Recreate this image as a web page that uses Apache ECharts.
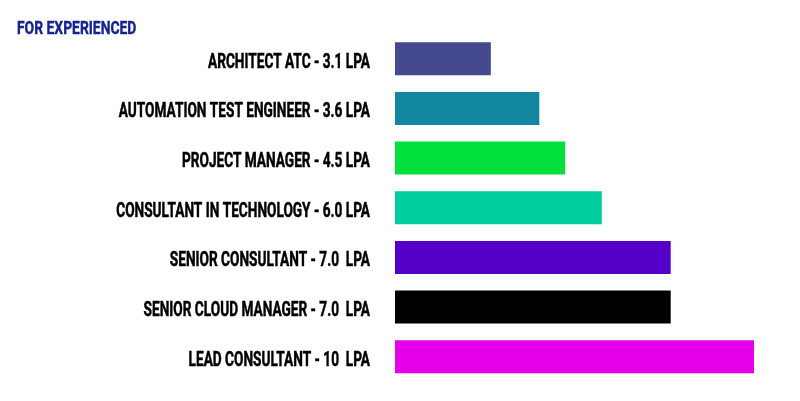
<!DOCTYPE html>
<html>
<head>
<meta charset="utf-8">
<script src="https://cdn.jsdelivr.net/npm/echarts@6/dist/echarts.min.js"></script>
<style>html,body{margin:0;padding:0;background:#fff}#c{width:800px;height:401px}</style>
</head>
<body>
<div id="c"></div>
<script>
const categories = [
  'ARCHITECT ATC - 3.1 LPA',
  'AUTOMATION TEST ENGINEER - 3.6 LPA',
  'PROJECT MANAGER - 4.5 LPA',
  'CONSULTANT IN TECHNOLOGY - 6.0 LPA',
  'SENIOR CONSULTANT - 7.0  LPA',
  'SENIOR CLOUD MANAGER - 7.0  LPA',
  'LEAD CONSULTANT - 10  LPA'
];
const values = [2.67, 4.02, 4.74, 5.76, 7.68, 7.68, 10];
const titleText = 'FOR EXPERIENCED';

const barColors = ['#454a8e', '#1386a0', '#02e03e', '#00cc9d', '#5500c8', '#000000', '#e600e9'];
const font = 'Roboto, "Noto Sans", sans-serif';

const chart = echarts.init(document.getElementById('c'));
chart.setOption({
  animation: false,
  backgroundColor: '#ffffff',
  grid: { left: 395, right: 46, top: 34, bottom: 19.5, containLabel: false },
  xAxis: { type: 'value', min: 0, max: 10, show: false },
  yAxis: {
    type: 'category', data: categories, inverse: true,
    axisLine: { show: false }, axisTick: { show: false }, splitLine: { show: false },
    axisLabel: { show: false }
  },
  series: [{
    type: 'bar',
    barWidth: 33,
    data: values.map((v, i) => ({ value: v, itemStyle: { color: barColors[i] } }))
  }]
});

// Condensed text (reference uses a narrow display face): draw labels as scaled text
const x0 = chart.convertToPixel({ xAxisIndex: 0 }, 0);
const elements = categories.map((c, i) => ({
  type: 'text',
  x: x0 - 25,
  y: chart.convertToPixel({ yAxisIndex: 0 }, c) + 4,
  scaleX: 0.7,
  silent: true,
  style: {
    text: c, x: 0, y: 0, align: 'right', verticalAlign: 'middle',
    font: 'bold 19.5px ' + font, fill: '#000', stroke: '#000', lineWidth: 0.5
  }
}));
elements.push({
  type: 'text', x: 17, y: 29.5, scaleX: 0.75, silent: true,
  style: {
    text: titleText, x: 0, y: 0, align: 'left', verticalAlign: 'middle',
    font: 'bold 18.5px ' + font, fill: '#14238f', stroke: '#14238f', lineWidth: 0.4
  }
});
chart.setOption({ graphic: { elements } });
</script>
</body>
</html>
